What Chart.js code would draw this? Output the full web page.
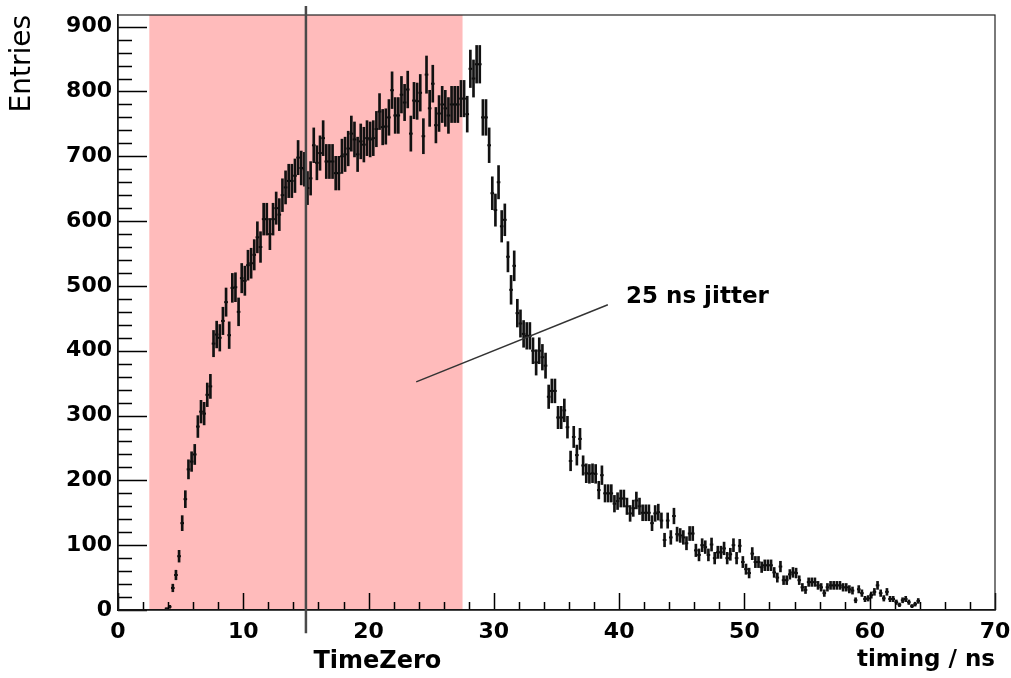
<!DOCTYPE html>
<html>
<head>
<meta charset="utf-8">
<script src="https://cdn.jsdelivr.net/npm/chart.js@4.4.0/dist/chart.umd.min.js"></script>
<style>
  html, body { margin: 0; padding: 0; background: #fff; }
</style>
</head>
<body>
<canvas id="timing-chart" width="1011" height="678"></canvas>
<script>
// histogram binning (ns)
const binStart = 3.75;
const binWidth = 0.25;

// entries per bin
const counts = [
  2,
  5, 34, 54, 83, 134, 171, 217, 229, 240, 283, 306, 303, 332, 345, 411, 425, 420, 446, 475, 424, 497, 498, 460, 512, 508, 532,
  535, 548, 575, 560, 603,
  603, 580, 603, 620, 610, 640, 652, 662, 662, 670, 698, 682, 680, 651, 666, 717, 690, 705, 728, 692, 692, 692, 674, 674,
  700, 703, 712, 735, 726, 703, 723, 718, 728, 726, 728, 742,
  769, 745, 746, 760, 802, 763, 763, 795, 783, 803, 735, 786, 785, 798, 731, 826, 774, 812, 748, 766, 780, 774, 763, 780,
  780, 780, 789, 789, 765, 835, 820, 842, 842, 760, 760, 717, 643, 617, 660, 592, 602, 545, 494, 531, 458, 442, 426, 423,
  423, 400, 382, 400, 390, 377, 329, 338, 338, 297, 297, 308, 282, 230,
  267, 239, 264, 223, 211, 210, 211, 210, 185, 208, 180, 180, 180, 164, 168, 172, 172, 160, 149, 157, 169, 160, 150, 150,
  150, 134, 149, 151, 138, 108, 138, 112, 145, 117, 115, 112, 103, 118, 118, 92, 85, 100, 97, 85, 101, 80, 89, 89, 95, 80,
  86, 100, 80, 99, 74, 63, 57, 87, 74, 74, 66, 69, 69, 69, 58, 50, 67, 46, 46, 55, 58, 57, 46, 35, 31, 43, 43, 43, 38, 35,
  26, 35, 38, 38, 38, 38, 35, 35, 32, 30, 15, 32, 26, 17, 18, 23, 28, 38, 26, 18, 28, 17, 17, 12, 8, 15, 17, 12, 6, 9, 14
];

const xTicks = [0, 10, 20, 30, 40, 50, 60, 70];
const yTicks = [0, 100, 200, 300, 400, 500, 600, 700, 800, 900];

// annotations (data coordinates)
const bandRange = [2.5, 27.5];
const timeZero = 15;
const jitterFrom = [23.8, 352];
const jitterTo = [39.1, 471];

const centers = counts.map((n, i) => binStart + binWidth * (i + 0.5));
const errBars = counts.map((n, i) => ({ x: centers[i], y: [n - Math.sqrt(n), n + Math.sqrt(n)] }));
const marks = counts.map((n, i) => ({ x: centers[i], y: n }));

Chart.defaults.font.family = "'DejaVu Sans', sans-serif";
Chart.defaults.color = '#000';

const histDecor = {
  id: 'histDecor',
  beforeDraw(chart) {
    const { ctx, chartArea, scales: { x } } = chart;
    const x0 = x.getPixelForValue(bandRange[0]);
    const x1 = x.getPixelForValue(bandRange[1]);
    ctx.save();
    ctx.fillStyle = '#ffbbbb';
    ctx.fillRect(x0, chartArea.top, x1 - x0, chartArea.bottom - chartArea.top);
    ctx.restore();
  },
  afterDatasetsDraw(chart) {
    const { ctx, chartArea, scales: { x, y } } = chart;
    ctx.save();

    // ROOT style ticks inside the frame
    ctx.strokeStyle = '#000';
    ctx.lineWidth = 1.5;
    ctx.beginPath();
    for (let v = 0; v <= 900; v += 20) {
      const py = Math.round(y.getPixelForValue(v)) + 0.5;
      const len = v % 100 === 0 ? 29 : 14;
      ctx.moveTo(chartArea.left, py);
      ctx.lineTo(chartArea.left + len, py);
    }
    for (let v = 0; v <= 70; v += 2) {
      const px = Math.round(x.getPixelForValue(v)) + 0.5;
      const len = v % 10 === 0 ? 17 : 8;
      ctx.moveTo(px, chartArea.bottom);
      ctx.lineTo(px, chartArea.bottom - len);
    }
    ctx.stroke();

    // frame
    ctx.strokeStyle = '#222';
    ctx.lineWidth = 1.2;
    ctx.strokeRect(chartArea.left, chartArea.top, chartArea.right - chartArea.left, chartArea.bottom - chartArea.top);

    // TimeZero marker
    ctx.strokeStyle = '#4a4a4a';
    ctx.lineWidth = 2.5;
    ctx.beginPath();
    ctx.moveTo(x.getPixelForValue(timeZero), y.getPixelForValue(932));
    ctx.lineTo(x.getPixelForValue(timeZero), y.getPixelForValue(-36));
    ctx.stroke();

    // jitter pointer
    ctx.strokeStyle = '#333';
    ctx.lineWidth = 1.5;
    ctx.beginPath();
    ctx.moveTo(x.getPixelForValue(jitterFrom[0]), y.getPixelForValue(jitterFrom[1]));
    ctx.lineTo(x.getPixelForValue(jitterTo[0]), y.getPixelForValue(jitterTo[1]));
    ctx.stroke();

    ctx.fillStyle = '#000';
    ctx.textBaseline = 'middle';
    ctx.textAlign = 'left';
    ctx.font = "bold 23px 'DejaVu Sans'";
    ctx.fillText('25 ns jitter', x.getPixelForValue(40.55), y.getPixelForValue(483));
    ctx.font = "bold 24px 'DejaVu Sans'";
    ctx.fillText('TimeZero', x.getPixelForValue(15.6), y.getPixelForValue(-80));
    ctx.restore();
  }
};

new Chart('timing-chart', {
  type: 'scatter',
  data: {
    datasets: [
      {
        type: 'bar',
        data: errBars,
        backgroundColor: '#111',
        borderWidth: 0,
        barThickness: 2
      },
      {
        type: 'scatter',
        data: marks,
        pointStyle: 'line',
        pointRadius: 1.8,
        pointBorderWidth: 2,
        pointBorderColor: '#000',
        pointBackgroundColor: '#000'
      }
    ]
  },
  options: {
    responsive: false,
    animation: false,
    events: [],
    layout: { padding: { top: 15, right: 16, left: 0, bottom: 0 } },
    plugins: {
      legend: { display: false },
      tooltip: { enabled: false }
    },
    scales: {
      x: {
        type: 'linear',
        min: 0,
        max: 70,
        offset: false,
        afterBuildTicks: (s) => { s.ticks = xTicks.map((v) => ({ value: v })); },
        afterFit: (s) => { s.height = 68; s.paddingLeft = 0; s.paddingRight = 0; },
        grid: { drawOnChartArea: false, drawTicks: false, offset: false },
        border: { display: true, color: '#000', width: 1.5 },
        ticks: { font: { size: 22, weight: 'bold' }, padding: 9, maxRotation: 0, autoSkip: false },
        title: {
          display: true,
          text: 'timing / ns',
          align: 'end',
          font: { size: 23, weight: 'bold' },
          padding: { top: 0, bottom: 4 }
        }
      },
      y: {
        type: 'linear',
        min: 0,
        max: 918,
        afterBuildTicks: (s) => { s.ticks = yTicks.map((v) => ({ value: v })); },
        afterFit: (s) => { s.width = 118; s.paddingTop = 0; s.paddingBottom = 0; },
        grid: { drawOnChartArea: false, drawTicks: false },
        border: { display: true, color: '#000', width: 1.5 },
        ticks: { font: { size: 22, weight: 'bold' }, padding: 6 },
        title: {
          display: true,
          text: 'Entries',
          align: 'end',
          font: { size: 28, weight: 'normal' },
          padding: { top: 6, bottom: 0 }
        }
      }
    }
  },
  plugins: [histDecor]
});
</script>
</body>
</html>
